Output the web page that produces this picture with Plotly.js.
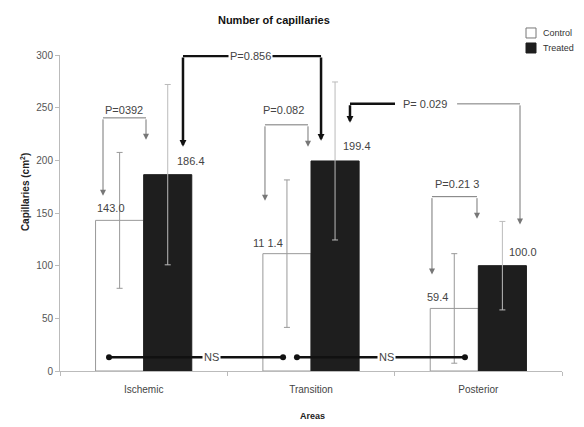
<!DOCTYPE html>
<html>
<head>
<meta charset="utf-8">
<script src="https://cdn.plot.ly/plotly-3.0.1.min.js"></script>
<style>
html,body{margin:0;padding:0;background:#fff;}
#chart{width:584px;height:427px;}
</style>
</head>
<body>
<div id="chart"></div>
<script>
// ---- data ----
const categories = ['Ischemic', 'Transition', 'Posterior'];
const seriesNames = ['Control', 'Treated'];
const controlVals = [143.0, 111.4, 59.4];
const treatedVals = [186.4, 199.4, 100.0];
const controlErr = [64.5, 70, 52];
const treatedErr = [85.6, 75, 42];
const controlLabels = ['143.0', '11 1.4', '59.4'];
const treatedLabels = ['186.4', '199.4', '100.0'];
const yTickVals = [0, 50, 100, 150, 200, 250, 300];
const yTickText = ['0', '50', '100', '150', '200', '250', '300'];

// ---- layout helpers (positions / styles) ----
const catIdx = categories.map((c, i) => i);
const halfBar = 0.14375;
const ctrlShift = [[-9, 12], [-19, 11], [-17, 11]];
const trtShift = [[23, 14], [22, 15], [21, 14]];
const FONT = 'Liberation Sans, Arial, sans-serif';
const THIN = '#777';
const THICK = '#111';
const CTRL_FILL = '#ffffff', CTRL_LINE = '#999';
const TRT_FILL = '#1e1e1e';

const traces = [
  {
    type: 'bar', name: seriesNames[0], x: catIdx, y: controlVals,
    marker: {color: CTRL_FILL, line: {color: CTRL_LINE, width: 1}},
    error_y: {type: 'data', array: controlErr, visible: true, color: '#999', thickness: 1, width: 3},
    hoverinfo: 'skip', showlegend: false
  },
  {
    type: 'bar', name: seriesNames[1], x: catIdx, y: treatedVals,
    marker: {color: TRT_FILL, line: {color: TRT_FILL, width: 1}},
    error_y: {type: 'data', array: treatedErr, visible: true, color: '#bbb', thickness: 1, width: 3},
    hoverinfo: 'skip', showlegend: false
  }
];

// NS connector lines
const nsLines = [
  {x0: -0.207, x1: 0.833, y: 13, tx: 0.408},
  {x0: 0.916, x1: 1.920, y: 13, tx: 1.454}
];
nsLines.forEach(n => {
  traces.push({
    type: 'scatter', mode: 'lines+markers', x: [n.x0, n.x1], y: [n.y, n.y],
    line: {color: THICK, width: 2.5}, marker: {color: THICK, size: 6},
    showlegend: false, hoverinfo: 'skip'
  });
});

const annotations = [];
const shapes = [];

// value labels
catIdx.forEach(i => {
  annotations.push({x: i - halfBar, y: controlVals[i], xref: 'x', yref: 'y', text: controlLabels[i],
    showarrow: false, xshift: ctrlShift[i][0], yshift: ctrlShift[i][1],
    font: {family: FONT, size: 11, color: '#444'}});
  annotations.push({x: i + halfBar, y: treatedVals[i], xref: 'x', yref: 'y', text: treatedLabels[i],
    showarrow: false, xshift: trtShift[i][0], yshift: trtShift[i][1],
    font: {family: FONT, size: 11, color: '#444'}});
});

function hline(x0, x1, y, color, w) {
  shapes.push({type: 'line', xref: 'x', yref: 'y', x0: x0, x1: x1, y0: y, y1: y, line: {color: color, width: w}});
}
function varrow(x, yTop, yTip, color, w, size) {
  annotations.push({x: x, y: yTip, ax: x, ay: yTop, xref: 'x', yref: 'y', axref: 'x', ayref: 'y',
    text: '', showarrow: true, arrowhead: 2, arrowsize: size, arrowwidth: w, arrowcolor: color});
}
function ptext(txt, x, y, bg) {
  annotations.push({x: x, y: y, xref: 'x', yref: 'y', text: txt, showarrow: false,
    bgcolor: bg ? '#ffffff' : 'rgba(0,0,0,0)', borderpad: 1,
    font: {family: FONT, size: 11, color: '#444'}});
}

// P=0392 (thin)
hline(-0.243, 0.014, 240.3, THIN, 1);
varrow(-0.243, 240.3, 166.4, THIN, 1, 1.2);
varrow(0.014, 240.3, 219.5, THIN, 1, 1.2);
ptext('P=0392', -0.118, 247.5, false);

// P=0.856 (thick)
hline(0.235, 1.060, 299, THICK, 2.5);
varrow(0.235, 299, 212.8, THICK, 2.5, 0.55);
varrow(1.060, 299, 218.5, THICK, 2.5, 0.55);
ptext('P=0.856', 0.641, 299, true);

// P=0.082 (thin)
hline(0.725, 0.982, 233.7, THIN, 1);
varrow(0.725, 233.7, 161.7, THIN, 1, 1.2);
varrow(0.982, 233.7, 212.9, THIN, 1, 1.2);
ptext('P=0.082', 0.833, 247.5, false);

// P=0.029 (thick left, thin right)
hline(1.233, 1.502, 253.6, THICK, 2.5);
varrow(1.233, 253.6, 235.6, THICK, 2.5, 0.55);
hline(1.873, 2.249, 253.6, THIN, 1);
varrow(2.249, 253.6, 139, THIN, 1, 1.2);
ptext('P= 0.029', 1.684, 253.6, false);

// P=0.213 (thin)
hline(1.723, 1.992, 165.5, THIN, 1);
varrow(1.723, 165.5, 91.6, THIN, 1, 1.2);
varrow(1.992, 165.5, 144.6, THIN, 1, 1.2);
ptext('P=0.21 3', 1.873, 178, false);

// NS texts
nsLines.forEach(n => ptext('NS', n.tx, n.y, true));

// axis titles as annotations
annotations.push({xref: 'paper', yref: 'paper', x: -0.0857, y: 0.566, text: 'Capillaries (cm<sup>2</sup>)',
  textangle: -90, showarrow: false, font: {family: FONT, size: 10, color: '#222', weight: 'bold'}});
annotations.push({xref: 'paper', yref: 'paper', x: 0.502, y: -0.166, text: 'Areas',
  showarrow: false, font: {family: FONT, size: 9, color: '#222', weight: 'bold'}});

// manual legend (container pixel positions converted to paper)
const PL = 60, PW = 502, PB = 370.7, PH = 315.7;
const px = v => (v - PL) / PW;
const py = v => (PB - v) / PH;
const legendRows = [
  {name: seriesNames[0], fill: CTRL_FILL, line: '#777', yc: 33},
  {name: seriesNames[1], fill: TRT_FILL, line: TRT_FILL, yc: 48}
];
legendRows.forEach(r => {
  shapes.push({type: 'rect', xref: 'paper', yref: 'paper', x0: px(526), x1: px(536),
    y0: py(r.yc + 5), y1: py(r.yc - 5), fillcolor: r.fill, line: {color: r.line, width: 1}});
  annotations.push({xref: 'paper', yref: 'paper', x: px(541), y: py(r.yc), xanchor: 'left', yanchor: 'middle',
    text: r.name, showarrow: false, font: {family: FONT, size: 9, color: '#333'}});
});

const layout = {
  width: 584, height: 427,
  margin: {l: 60, r: 22, t: 55, b: 56},
  paper_bgcolor: '#fff', plot_bgcolor: '#fff',
  barmode: 'group', bargap: 0.425, bargroupgap: 0,
  font: {family: FONT, color: '#444'},
  title: {text: 'Number of capillaries', x: 0.469, xanchor: 'center', xref: 'container',
    y: 0.953, yanchor: 'middle', yref: 'container',
    font: {family: FONT, size: 11, color: '#111', weight: 'bold'}},
  xaxis: {
    type: 'linear', range: [-0.5, 2.5], tickmode: 'array', tickvals: catIdx, ticktext: categories,
    showline: true, linecolor: '#bbb', linewidth: 1, ticks: '', showgrid: false, zeroline: false,
    tickfont: {family: FONT, size: 10, color: '#444'}, ticklabelstandoff: 9,
    minor: {tickmode: 'linear', tick0: -0.5, dtick: 1, ticks: 'outside', ticklen: 4, tickcolor: '#bbb', showgrid: false},
    fixedrange: true
  },
  yaxis: {
    range: [0, 300], tickmode: 'array', tickvals: yTickVals, ticktext: yTickText,
    showline: true, linecolor: '#bbb', linewidth: 1, ticks: 'outside', ticklen: 4, tickcolor: '#bbb',
    showgrid: false, zeroline: false, tickfont: {family: FONT, size: 10, color: '#555'},
    fixedrange: true
  },
  showlegend: false,
  shapes: shapes,
  annotations: annotations
};

Plotly.newPlot('chart', traces, layout, {displayModeBar: false, staticPlot: true});
</script>
</body>
</html>
